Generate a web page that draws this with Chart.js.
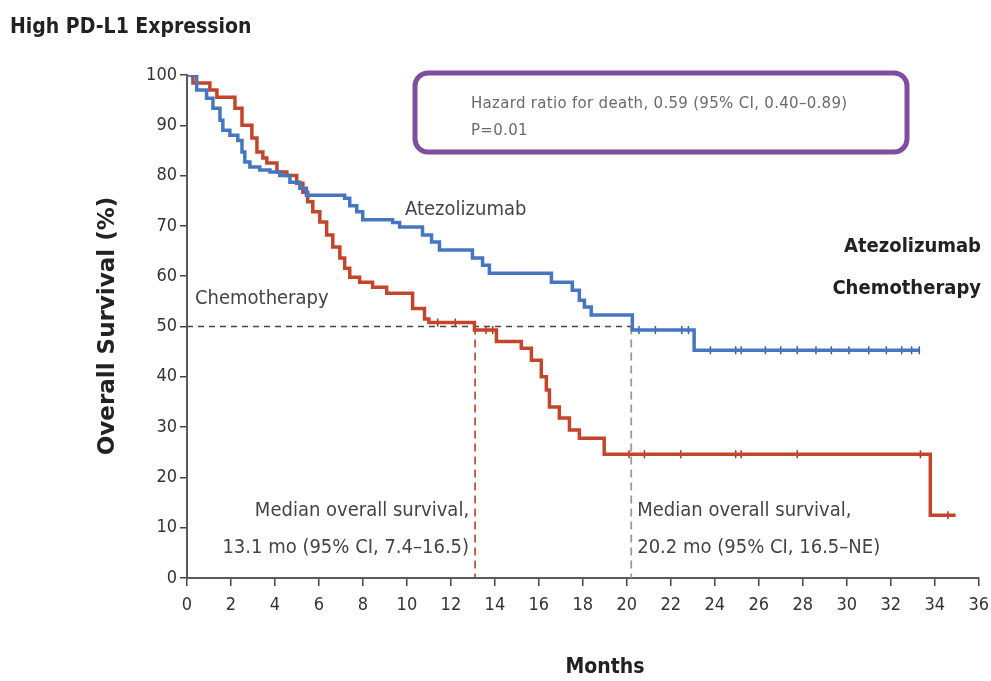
<!DOCTYPE html>
<html>
<head>
<meta charset="utf-8">
<script src="https://cdn.jsdelivr.net/npm/chart.js@4/dist/chart.umd.min.js"></script>
<style>
  html, body { margin: 0; padding: 0; background: #fff; overflow: hidden; }
  #wrap { position: relative; width: 991px; height: 681px; overflow: hidden; }
  #km { display: block; }
</style>
</head>
<body>
<div id="wrap"><canvas id="km" width="998" height="681"></canvas></div>
<script>
// Kaplan–Meier overall survival, high PD-L1 expression subgroup
const monthTicks = [0, 2, 4, 6, 8, 10, 12, 14, 16, 18, 20, 22, 24, 26, 28, 30, 32, 34, 36];
const survivalTicks = [0, 10, 20, 30, 40, 50, 60, 70, 80, 90, 100];

// Atezolizumab arm: event times (months) and survival (%) after each step
const atezoTime = [0, 0.44, 0.89, 1.18, 1.5, 1.63, 1.95, 2.31, 2.5, 2.63, 2.86, 3.31, 3.77, 4.22, 4.68, 5.13, 5.43,
  7.17, 7.4, 7.72, 7.99, 9.35, 9.67, 10.71, 11.12, 11.48, 12.98, 13.44, 13.75, 16.57, 17.52, 17.84, 18.07, 18.38,
  20.25, 23.06, 33.3];
const atezoSurv = [100, 97, 95.4, 93.4, 91, 89, 88, 87, 84.7, 82.7, 81.7, 81.1, 80.7, 80, 78.7, 77.5, 76.1,
  75.5, 74, 72.8, 71.2, 70.7, 69.8, 68.2, 66.8, 65.2, 63.6, 62.2, 60.6, 58.8, 57.2, 55.2, 53.9, 52.3,
  49.3, 45.3, 45.3];

// Chemotherapy arm
const chemoTime = [0, 0.27, 1.04, 1.36, 2.18, 2.5, 2.95, 3.18, 3.45, 3.63, 4.09, 4.54, 4.99, 5.27, 5.49, 5.72,
  6.04, 6.35, 6.63, 6.95, 7.17, 7.4, 7.85, 8.44, 9.08, 10.26, 10.8, 11.0, 13.07, 14.07, 15.2, 15.66, 16.11,
  16.34, 16.48, 16.93, 17.39, 17.84, 18.97, 33.8, 34.95];
const chemoSurv = [100, 98.4, 97, 95.6, 93.4, 90, 87.5, 84.7, 83.5, 82.5, 80.7, 80, 78.5, 76.7, 74.8, 72.8,
  70.8, 68.2, 65.8, 63.6, 61.6, 59.8, 58.8, 57.8, 56.6, 53.6, 51.5, 50.8, 49.3, 47, 45.7, 43.3, 40,
  37.4, 34, 31.8, 29.4, 27.8, 24.6, 12.5, 12.5];

// Censored observations (months)
const atezoCensor = [20.55, 21.3, 22.5, 22.8, 23.8, 24.95, 25.2, 26.3, 27.0, 27.75, 28.6, 29.3, 30.1, 31.0, 31.8, 32.5, 32.95, 33.3];
const chemoCensor = [11.4, 12.2, 13.6, 13.9, 20.1, 20.8, 22.45, 24.95, 25.2, 27.75, 33.35, 34.6];

// Median overall survival (months) per arm
const medianChemo = 13.1;
const medianAtezo = 20.2;

const blue = '#4676c0';
const red = '#c2452c';
const narrow = '"Liberation Sans Narrow", "DejaVu Sans Condensed", sans-serif';

function toPoints(t, s) { return t.map((x, i) => ({ x: x, y: s[i] })); }

// survival value of a step curve at time x
function stepValue(t, s, x) {
  let v = s[0];
  for (let i = 0; i < t.length; i++) { if (t[i] <= x) v = s[i]; }
  return v;
}
function censorPoints(times, t, s) { return times.map(x => ({ x: x, y: stepValue(t, s, x) })); }

const annotations = {
  id: 'annotations',
  afterDraw(chart) {
    const ctx = chart.ctx;
    const xs = chart.scales.x;
    ctx.save();
    ctx.textBaseline = 'alphabetic';

    // panel heading
    ctx.fillStyle = '#222';
    ctx.textAlign = 'left';
    ctx.font = 'bold 21px ' + narrow;
    ctx.fillText('High PD-L1 Expression', 10, 33);

    // axis titles
    ctx.font = 'bold 21px ' + narrow;
    ctx.textAlign = 'center';
    ctx.fillText('Months', 605, 673);
    ctx.save();
    ctx.translate(114, 326);
    ctx.rotate(-Math.PI / 2);
    ctx.font = 'bold 23px "DejaVu Sans", sans-serif';
    ctx.fillText('Overall Survival (%)', 0, 0);
    ctx.restore();

    // hazard ratio box
    ctx.lineWidth = 5;
    ctx.strokeStyle = '#7d4f9e';
    ctx.beginPath();
    ctx.roundRect(415, 73, 492, 79, 13);
    ctx.stroke();
    ctx.fillStyle = '#6a6a6a';
    ctx.textAlign = 'left';
    ctx.font = '15px "DejaVu Sans", sans-serif';
    ctx.letterSpacing = '0.3px';
    ctx.fillText('Hazard ratio for death, 0.59 (95% CI, 0.40\u20130.89)', 471, 108);
    ctx.fillText('P=0.01', 471, 135);
    ctx.letterSpacing = '0px';

    // curve labels
    ctx.fillStyle = '#444';
    ctx.font = '20px ' + narrow;
    ctx.fillText('Atezolizumab', 405, 215);
    ctx.fillText('Chemotherapy', 195, 304);

    // median labels
    ctx.textAlign = 'right';
    const xl = xs.getPixelForValue(medianChemo) - 6;
    ctx.fillText('Median overall survival,', xl, 516);
    ctx.fillText(medianChemo.toFixed(1) + ' mo (95% CI, 7.4\u201316.5)', xl, 553);
    ctx.textAlign = 'left';
    const xr = xs.getPixelForValue(medianAtezo) + 6;
    ctx.fillText('Median overall survival,', xr, 516);
    ctx.fillText(medianAtezo.toFixed(1) + ' mo (95% CI, 16.5\u2013NE)', xr, 553);

    // arm names on the right
    ctx.fillStyle = '#222';
    ctx.textAlign = 'right';
    ctx.font = 'bold 20px ' + narrow;
    ctx.fillText('Atezolizumab', 981, 252);
    ctx.fillText('Chemotherapy', 981, 294);

    ctx.restore();
  }
};

const ctxEl = document.getElementById('km');
new Chart(ctxEl, {
  type: 'line',
  data: {
    datasets: [
      {
        label: 'Atezolizumab',
        data: toPoints(atezoTime, atezoSurv),
        stepped: true,
        borderColor: blue,
        borderWidth: 3.5,
        pointRadius: 0,
        fill: false
      },
      {
        label: 'Chemotherapy',
        data: toPoints(chemoTime, chemoSurv),
        stepped: true,
        borderColor: red,
        borderWidth: 3.5,
        pointRadius: 0,
        fill: false
      },
      {
        label: 'Atezolizumab censored',
        data: censorPoints(atezoCensor, atezoTime, atezoSurv),
        showLine: false,
        pointStyle: 'line',
        rotation: 90,
        pointRadius: 4,
        borderColor: '#2f5ea8',
        borderWidth: 1.5
      },
      {
        label: 'Chemotherapy censored',
        data: censorPoints(chemoCensor, chemoTime, chemoSurv),
        showLine: false,
        pointStyle: 'line',
        rotation: 90,
        pointRadius: 4,
        borderColor: '#a8321c',
        borderWidth: 1.5
      },
      {
        label: 'median level',
        data: [{ x: 0, y: 50 }, { x: medianAtezo, y: 50 }],
        borderColor: '#444',
        borderWidth: 1.3,
        borderDash: [6, 5],
        pointRadius: 0
      },
      {
        label: 'chemo median',
        data: [{ x: medianChemo, y: 50 }, { x: medianChemo, y: 0 }],
        borderColor: '#b2402a',
        borderWidth: 1.6,
        borderDash: [8, 5],
        pointRadius: 0
      },
      {
        label: 'atezo median',
        data: [{ x: medianAtezo, y: 50 }, { x: medianAtezo, y: 0 }],
        borderColor: '#9a9a9a',
        borderWidth: 1.8,
        borderDash: [8, 5],
        pointRadius: 0
      }
    ]
  },
  options: {
    responsive: false,
    animation: false,
    devicePixelRatio: 1,
    layout: { padding: { top: 75, right: 0, bottom: 0, left: 0 } },
    plugins: {
      legend: { display: false },
      tooltip: { enabled: false },
      title: { display: false }
    },
    scales: {
      x: {
        type: 'linear',
        min: 0,
        max: 36,
        afterFit(scale) { scale.height = 103; },
        afterBuildTicks(scale) { scale.ticks = monthTicks.map(v => ({ value: v })); },
        border: { display: true, color: '#5a5a5a', width: 2 },
        grid: { drawOnChartArea: false, drawTicks: true, tickLength: 8, color: '#444', lineWidth: 1.5 },
        ticks: {
          padding: 9,
          color: '#333',
          font: { family: narrow, size: 18 },
          maxRotation: 0,
          autoSkip: false
        },
        title: { display: false }
      },
      y: {
        min: 0,
        max: 100,
        afterFit(scale) { scale.width = 187; },
        afterBuildTicks(scale) { scale.ticks = survivalTicks.map(v => ({ value: v })); },
        border: { display: true, color: '#5a5a5a', width: 2 },
        grid: { drawOnChartArea: false, drawTicks: true, tickLength: 7, color: '#444', lineWidth: 1.5 },
        ticks: {
          padding: 3,
          color: '#333',
          font: { family: narrow, size: 18 }
        },
        title: { display: false }
      }
    }
  },
  plugins: [annotations]
});
</script>
</body>
</html>
